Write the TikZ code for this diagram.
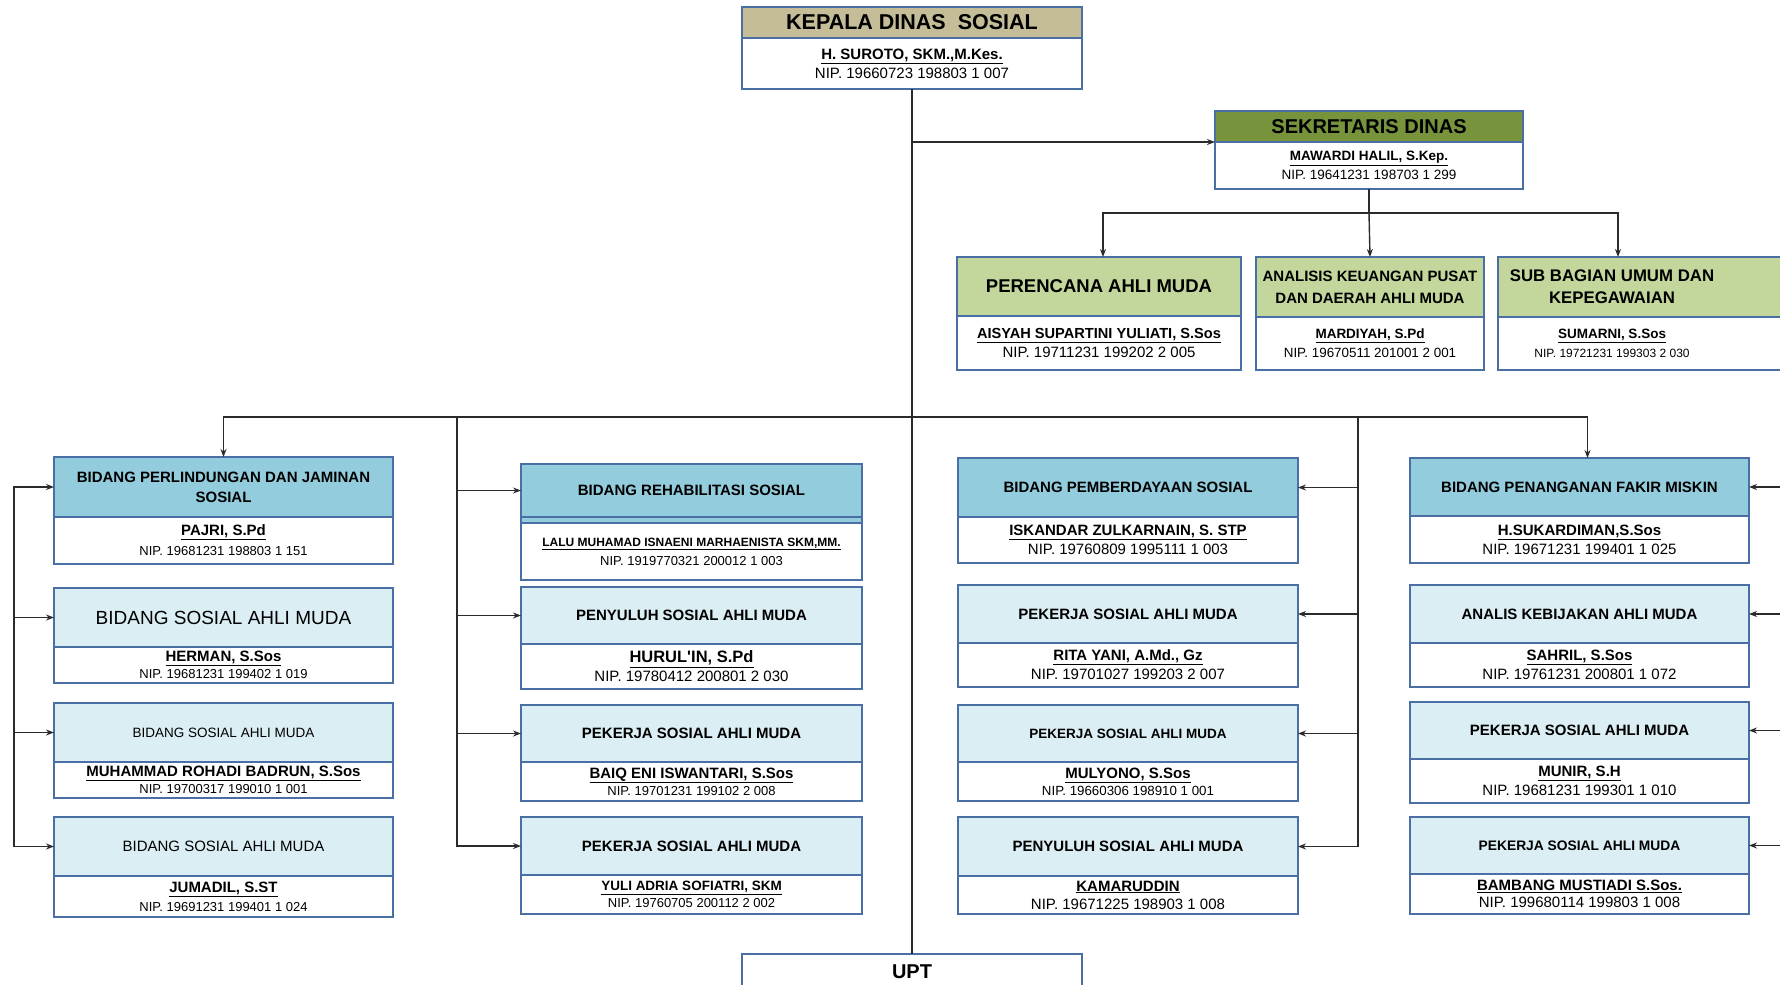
\documentclass[tikz,border=0pt]{standalone}
\usepackage{fontspec}
\setmainfont{Liberation Sans}
\usetikzlibrary{arrows.meta,positioning}
\definecolor{boxline}{HTML}{4A6FA5}
\definecolor{khaki}{HTML}{C4BD97}
\definecolor{olive}{HTML}{77933C}
\definecolor{leaf}{HTML}{C3D69B}
\definecolor{sky}{HTML}{93CDDD}
\definecolor{pale}{HTML}{DBEEF4}
\definecolor{wire}{HTML}{2B2B2B}
\newcommand\fsz[2]{\fontsize{#1}{#2}\selectfont}
\newcommand\who[2]{{\fsz{#1}{#1}\bfseries\underline{#2}}}
\tikzset{
  band/.style={draw=boxline, line width=1.6pt, inner sep=0pt, outer sep=0pt, align=center, anchor=north west},
  card/.style={draw=boxline, line width=1.6pt, inner sep=0pt, outer sep=0pt, align=center, fill=white, anchor=north},
  link/.style={draw=wire, line width=1.4pt, -{Stealth[length=8pt,width=6pt]}},
  plain/.style={draw=wire, line width=1.4pt},
}
\begin{document}
\begin{tikzpicture}[x=1pt,y=-1pt]
\useasboundingbox (0,0) rectangle (1780,985);
\clip (0,0) rectangle (1780,985);
\fill[white] (0,0) rectangle (1780,985);

\node[band, fill=khaki, minimum width=340pt, minimum height=31pt, font=\fsz{21.5}{24}\bfseries] (kd) at (742,7) {KEPALA DINAS~ SOSIAL};
\node[card, minimum width=340pt, minimum height=51pt, font=\fsz{15}{19}] (kdb) at (kd.south) {\who{15}{H. SUROTO, SKM.,M.Kes.}\\NIP. 19660723 198803 1 007};

\node[band, fill=olive, minimum width=308pt, minimum height=31pt, font=\fsz{20}{23}\bfseries] (sek) at (1215,111) {SEKRETARIS DINAS};
\node[card, minimum width=308pt, minimum height=47pt, font=\fsz{13.5}{19}] (sekb) at (sek.south) {\who{13.5}{MAWARDI HALIL, S.Kep.}\\NIP. 19641231 198703 1 299};

\node[band, fill=leaf, minimum width=284pt, minimum height=59pt, font=\fsz{18.5}{22}\bfseries] (per) at (957,257) {PERENCANA AHLI MUDA};
\node[card, minimum width=284pt, minimum height=54pt, font=\fsz{15}{19}] (perb) at (per.south) {\who{14.6}{AISYAH SUPARTINI YULIATI, S.Sos}\\NIP. 19711231 199202 2 005};
\node[band, fill=leaf, minimum width=228pt, minimum height=60pt, font=\fsz{15}{22}\bfseries] (ana) at (1256,257) {ANALISIS KEUANGAN PUSAT\\DAN DAERAH AHLI MUDA};
\node[card, minimum width=228pt, minimum height=53pt, font=\fsz{13.4}{19}] (anab) at (ana.south) {\who{13.5}{MARDIYAH, S.Pd}\\NIP. 19670511 201001 2 001};
\node[band, fill=leaf, minimum width=300pt, minimum height=60pt, font=\fsz{16.8}{22}\bfseries] (sub) at (1498,257) {\hspace*{-72pt}SUB BAGIAN UMUM DAN\\\hspace*{-72pt}KEPEGAWAIAN};
\node[card, minimum width=300pt, minimum height=53pt, font=\fsz{12}{19}] (subb) at (sub.south) {\hspace*{-72pt}\who{13.5}{SUMARNI, S.Sos}\\\hspace*{-72pt}NIP. 19721231 199303 2 030};

\node[band, fill=sky, minimum width=339pt, minimum height=60pt, font=\fsz{15}{20}\bfseries] (a1) at (54,457) {BIDANG PERLINDUNGAN DAN JAMINAN\\SOSIAL};
\node[card, minimum width=339pt, minimum height=47pt, font=\fsz{13}{20}] (a1b) at (a1.south) {\who{15}{PAJRI, S.Pd}\\NIP. 19681231 198803 1 151};
\node[band, fill=pale, minimum width=339pt, minimum height=59pt, font=\fsz{19}{22}] (a2) at (54,588) {BIDANG SOSIAL AHLI MUDA};
\node[card, minimum width=339pt, minimum height=36pt, font=\fsz{13}{17}] (a2b) at (a2.south) {\who{15}{HERMAN, S.Sos}\\NIP. 19681231 199402 1 019};
\node[band, fill=pale, minimum width=339pt, minimum height=59pt, font=\fsz{13.5}{16}] (a3) at (54,703) {BIDANG SOSIAL AHLI MUDA};
\node[card, minimum width=339pt, minimum height=36pt, font=\fsz{13}{17}] (a3b) at (a3.south) {\who{15}{MUHAMMAD ROHADI BADRUN, S.Sos}\\NIP. 19700317 199010 1 001};
\node[band, fill=pale, minimum width=339pt, minimum height=59pt, font=\fsz{15}{18}] (a4) at (54,817) {BIDANG SOSIAL AHLI MUDA};
\node[card, minimum width=339pt, minimum height=41pt, font=\fsz{13}{19}] (a4b) at (a4.south) {\who{15}{JUMADIL, S.ST}\\NIP. 19691231 199401 1 024};

\node[band, fill=sky, minimum width=341pt, minimum height=53pt, font=\fsz{15}{18}\bfseries] (b1) at (521,464) {BIDANG REHABILITASI SOSIAL};
\node[card, fill=sky, minimum width=341pt, minimum height=6pt] (b1s) at (b1.south) {};
\node[card, minimum width=341pt, minimum height=57pt, font=\fsz{13}{19}] (b1b) at (b1s.south) {\who{12}{LALU MUHAMAD ISNAENI MARHAENISTA SKM,MM.}\\NIP. 1919770321 200012 1 003};
\node[band, fill=pale, minimum width=341pt, minimum height=57pt, font=\fsz{15}{18}\bfseries] (b2) at (521,587) {PENYULUH SOSIAL AHLI MUDA};
\node[card, minimum width=341pt, minimum height=45pt, font=\fsz{15}{19}] (b2b) at (b2.south) {\who{16.5}{HURUL\textquotesingle IN, S.Pd}\\NIP. 19780412 200801 2 030};
\node[band, fill=pale, minimum width=341pt, minimum height=57pt, font=\fsz{15}{18}\bfseries] (b3) at (521,705) {PEKERJA SOSIAL AHLI MUDA};
\node[card, minimum width=341pt, minimum height=39pt, font=\fsz{13}{17}] (b3b) at (b3.south) {\who{15}{BAIQ ENI ISWANTARI, S.Sos}\\NIP. 19701231 199102 2 008};
\node[band, fill=pale, minimum width=341pt, minimum height=58pt, font=\fsz{15}{18}\bfseries] (b4) at (521,817) {PEKERJA SOSIAL AHLI MUDA};
\node[card, minimum width=341pt, minimum height=39pt, font=\fsz{13}{17}] (b4b) at (b4.south) {\who{13.5}{YULI ADRIA SOFIATRI, SKM}\\NIP. 19760705 200112 2 002};

\node[band, fill=sky, minimum width=340pt, minimum height=59pt, font=\fsz{15}{18}\bfseries] (c1) at (958,458) {BIDANG PEMBERDAYAAN SOSIAL};
\node[card, minimum width=340pt, minimum height=46pt, font=\fsz{15}{19}] (c1b) at (c1.south) {\who{15}{ISKANDAR ZULKARNAIN, S. STP}\\NIP. 19760809 1995111 1 003};
\node[band, fill=pale, minimum width=340pt, minimum height=58pt, font=\fsz{15}{18}\bfseries] (c2) at (958,585) {PEKERJA SOSIAL AHLI MUDA};
\node[card, minimum width=340pt, minimum height=44pt, font=\fsz{15}{19}] (c2b) at (c2.south) {\who{15}{RITA YANI, A.Md., Gz}\\NIP. 19701027 199203 2 007};
\node[band, fill=pale, minimum width=340pt, minimum height=57pt, font=\fsz{13.5}{16}\bfseries] (c3) at (958,705) {PEKERJA SOSIAL AHLI MUDA};
\node[card, minimum width=340pt, minimum height=39pt, font=\fsz{13.3}{17}] (c3b) at (c3.south) {\who{15}{MULYONO, S.Sos}\\NIP. 19660306 198910 1 001};
\node[band, fill=pale, minimum width=340pt, minimum height=59pt, font=\fsz{15}{18}\bfseries] (c4) at (958,817) {PENYULUH SOSIAL AHLI MUDA};
\node[card, minimum width=340pt, minimum height=38pt, font=\fsz{15}{18}] (c4b) at (c4.south) {\who{15}{KAMARUDDIN}\\NIP. 19671225 198903 1 008};

\node[band, fill=sky, minimum width=339pt, minimum height=58pt, font=\fsz{15}{18}\bfseries] (d1) at (1410,458) {BIDANG PENANGANAN FAKIR MISKIN};
\node[card, minimum width=339pt, minimum height=47pt, font=\fsz{15}{19}] (d1b) at (d1.south) {\who{15}{H.SUKARDIMAN,S.Sos}\\NIP. 19671231 199401 1 025};
\node[band, fill=pale, minimum width=339pt, minimum height=58pt, font=\fsz{15}{18}\bfseries] (d2) at (1410,585) {ANALIS KEBIJAKAN AHLI MUDA};
\node[card, minimum width=339pt, minimum height=44pt, font=\fsz{15}{19}] (d2b) at (d2.south) {\who{15}{SAHRIL, S.Sos}\\NIP. 19761231 200801 1 072};
\node[band, fill=pale, minimum width=339pt, minimum height=57pt, font=\fsz{15}{18}\bfseries] (d3) at (1410,702) {PEKERJA SOSIAL AHLI MUDA};
\node[card, minimum width=339pt, minimum height=44pt, font=\fsz{15}{19}] (d3b) at (d3.south) {\who{15}{MUNIR, S.H}\\NIP. 19681231 199301 1 010};
\node[band, fill=pale, minimum width=339pt, minimum height=57pt, font=\fsz{13.8}{16}\bfseries] (d4) at (1410,817) {PEKERJA SOSIAL AHLI MUDA};
\node[card, minimum width=339pt, minimum height=40pt, font=\fsz{15}{17}] (d4b) at (d4.south) {\who{15}{BAMBANG MUSTIADI S.Sos.}\\NIP. 199680114 199803 1 008};

\node[band, fill=white, minimum width=340pt, minimum height=36pt, font=\fsz{20}{22}\bfseries] (upt) at (742,954) {UPT};

\coordinate (secbus) at (1369,213);
\coordinate (bus) at (912,417);
\coordinate (rail1) at (14,0);
\coordinate (rail2) at (457,417);
\coordinate (rail3) at (1358,417);
\coordinate (rail4) at (1800,0);

\draw[plain] (kdb.south) -- (upt.north);
\draw[link] (kdb.south |- sekb.north west) -- (sekb.north west);
\draw[plain] (sekb.south) -- (secbus);
\draw[link] (secbus) -| ([xshift=4pt]per.north);
\draw[link] (secbus) -- (ana.north);
\draw[link] (secbus) -| ([xshift=-30pt]sub.north);

\draw[link] (bus) -| (a1.north);
\draw[link] (bus) -| ([xshift=8pt]d1.north);

\draw[link] (rail1 |- a4.west) |- (a1.west);
\draw[link] (rail1 |- a2.west) -- (a2.west);
\draw[link] (rail1 |- a3.west) -- (a3.west);
\draw[link] (rail1 |- a4.west) -- (a4.west);

\draw[link] (rail2) |- (b4.west);
\draw[link] (rail2 |- b1.west) -- (b1.west);
\draw[link] (rail2 |- b2.west) -- (b2.west);
\draw[link] (rail2 |- b3.west) -- (b3.west);

\draw[link] (rail3) |- (c4.east);
\draw[link] (rail3 |- c1.east) -- (c1.east);
\draw[link] (rail3 |- c2.east) -- (c2.east);
\draw[link] (rail3 |- c3.east) -- (c3.east);

\draw[link] (rail4 |- d1.east) -- (d1.east);
\draw[link] (rail4 |- d2.east) -- (d2.east);
\draw[link] (rail4 |- d3.east) -- (d3.east);
\draw[link] (rail4 |- d4.east) -- (d4.east);
\end{tikzpicture}
\end{document}
